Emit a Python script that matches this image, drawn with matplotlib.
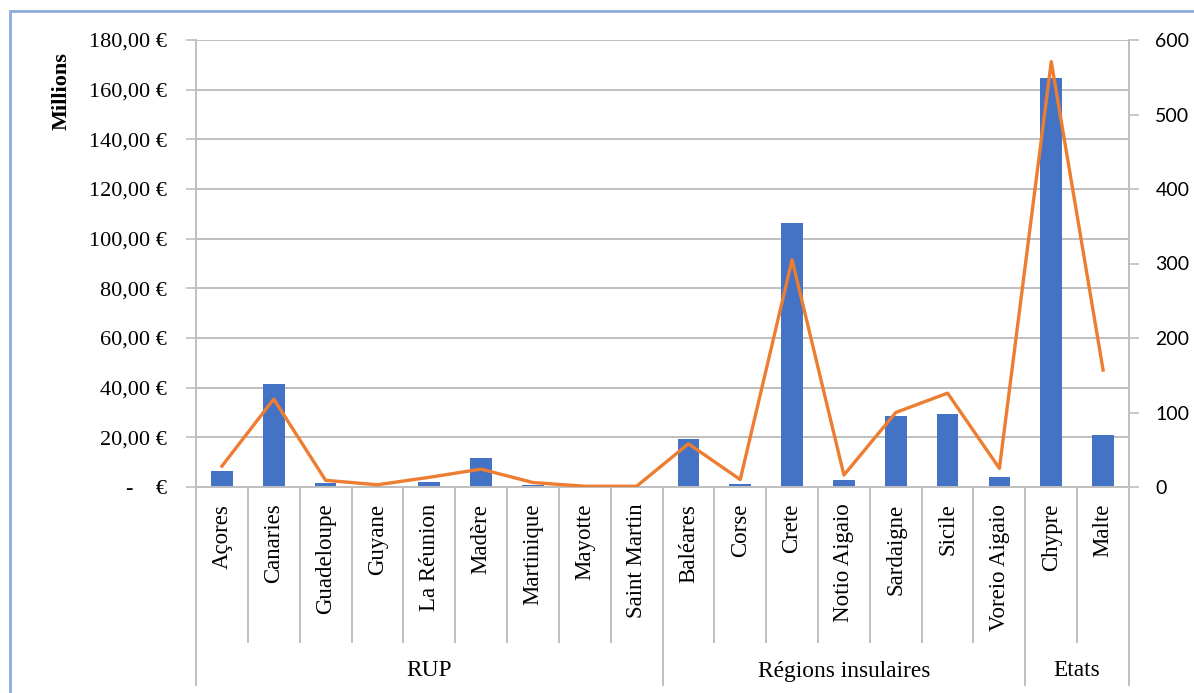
import matplotlib.pyplot as plt
import matplotlib.transforms as mtransforms
from matplotlib.patches import Rectangle
from matplotlib.ticker import FuncFormatter, MultipleLocator

plt.rcParams['font.family'] = ['Liberation Serif', 'DejaVu Serif']

# -----------------------------
# Data
# -----------------------------
categories = ["Açores", "Canaries", "Guadeloupe", "Guyane", "La Réunion", "Madère",
              "Martinique", "Mayotte", "Saint Martin", "Baléares", "Corse", "Crete",
              "Notio Aigaio", "Sardaigne", "Sicile", "Voreio Aigaio", "Chypre", "Malte"]
groups = ["RUP", "Régions insulaires", "Etats"]
group_sizes = [9, 7, 2]

# bars, left axis (millions of euros)
amounts = [6.6, 41.4, 1.5, 0.3, 1.9, 11.8, 0.8, 0.1, 0.1,
           19.2, 1.2, 106.4, 2.8, 28.5, 29.3, 4.2, 164.6, 21.0]
# line, right axis
counts = [28, 118, 9, 3, 13, 24, 6, 1, 1,
          58, 10, 305, 16, 100, 126, 25, 571, 157]

BAR_COLOR = "#4472C4"
LINE_COLOR = "#ED7D31"
GRID_COLOR = "#BFBFBF"


def euro_fmt(v, pos):
    if v == 0:
        return "-    €"
    return f"{v:,.2f} €".replace(",", " ").replace(".", ",")


fig = plt.figure(figsize=(11.94, 6.93), dpi=100)
ax = fig.add_axes([196 / 1194, 1 - 487 / 693, (1129 - 196) / 1194, (487 - 40) / 693])

x = list(range(len(categories)))
ax.bar(x, amounts, width=0.42, color=BAR_COLOR, zorder=2)
ax.set_xlim(-0.5, len(categories) - 0.5)
ax.set_ylim(0, 180)
ax.yaxis.set_major_locator(MultipleLocator(20))
ax.yaxis.set_major_formatter(FuncFormatter(euro_fmt))
ax.grid(axis="y", color=GRID_COLOR, linewidth=1.4, zorder=0)
ax.set_axisbelow(True)
ax.tick_params(axis="y", labelsize=16, length=7, width=1.2, color=GRID_COLOR, pad=14)

ax.set_xticks(x)
ax.set_xticklabels(categories, rotation=90, fontsize=16.5)
ax.tick_params(axis="x", length=0, pad=12)

ax.spines["top"].set_visible(False)
for side in ["left", "right", "bottom"]:
    ax.spines[side].set_color(GRID_COLOR)
    ax.spines[side].set_linewidth(1.4)

# multi-level category separators
trans = mtransforms.blended_transform_factory(ax.transData, ax.transAxes)
cat_depth = -(642 - 487) / 447
grp_depth = -(685 - 487) / 447
bounds = [-0.5]
for s in group_sizes:
    bounds.append(bounds[-1] + s)
for i in range(len(categories) + 1):
    xb = i - 0.5
    depth = grp_depth if xb in bounds else cat_depth
    ax.plot([xb, xb], [0, depth], color=GRID_COLOR, linewidth=1.4,
            transform=trans, clip_on=False)
for g, lo, hi in zip(groups, bounds[:-1], bounds[1:]):
    ax.text((lo + hi) / 2, -(671 - 487) / 447, g, transform=trans,
            ha="center", va="center", fontsize=16.8)

# secondary axis with line
ax2 = ax.twinx()
ax2.plot(x, counts, color=LINE_COLOR, linewidth=2.4, zorder=3)
ax2.set_ylim(0, 600)
ax2.yaxis.set_major_locator(MultipleLocator(100))
ax2.tick_params(axis="y", length=7, width=1.2, color=GRID_COLOR, pad=12)
for lbl in ax2.get_yticklabels():
    lbl.set_family(["Lato", "DejaVu Sans"])
    lbl.set_fontsize(14)
for side in ["top", "left", "bottom"]:
    ax2.spines[side].set_visible(False)
ax2.spines["right"].set_color(GRID_COLOR)
ax2.spines["right"].set_linewidth(1.4)

fig.text(62 / 1194, 1 - 91 / 693, "Millions", rotation=90, ha="center", va="center",
         fontsize=16, fontweight="bold")

# outer chart frame
fig.patches.append(Rectangle((10 / 1194, -0.05), 1.1, 1 - 11 / 693 + 0.05,
                             transform=fig.transFigure, fill=False,
                             edgecolor="#8FAADC", linewidth=2))

fig.savefig("out.png", dpi=100)
